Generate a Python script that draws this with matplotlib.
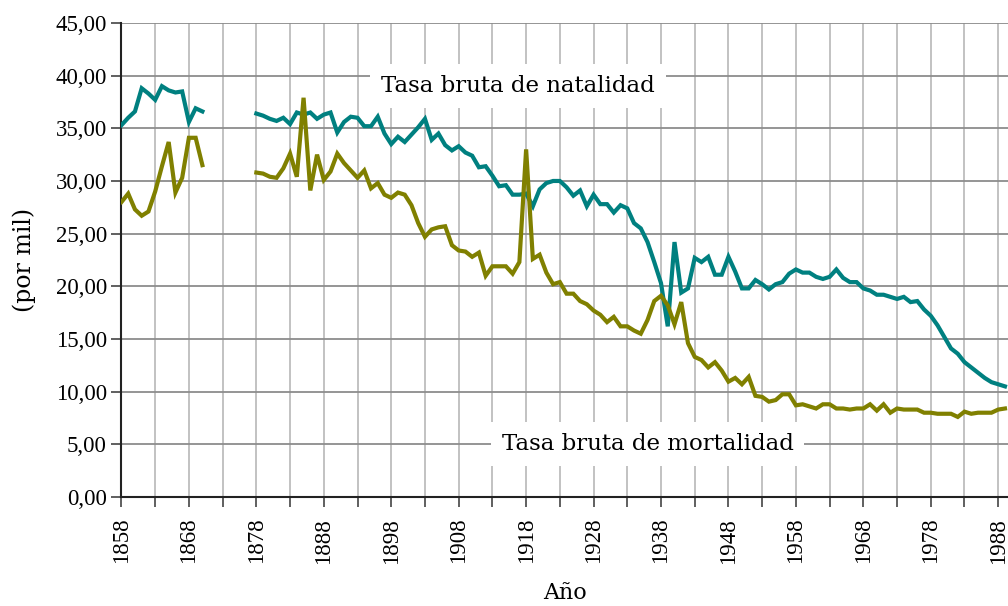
import numpy as np
import matplotlib
matplotlib.use("Agg")
import matplotlib.pyplot as plt
from matplotlib.ticker import FuncFormatter, MultipleLocator

years = list(range(1858, 1990))
nan = np.nan

natalidad = [
    35.3, 36.0, 36.6, 38.8, 38.3, 37.7, 39.0, 38.6, 38.4, 38.5, 35.6, 36.9, 36.6,  # 1858-1870
    nan, nan, nan, nan, nan, nan, nan,                                               # 1871-1877
    36.4, 36.2, 35.9, 35.7, 36.0, 35.4, 36.5, 36.3, 36.5, 35.9,                      # 1878-1887
    36.3, 36.5, 34.6, 35.6, 36.1, 36.0, 35.2, 35.2, 36.1, 34.5,                      # 1888-1897
    33.5, 34.2, 33.7, 34.4, 35.1, 35.9, 33.9, 34.5, 33.4, 32.9,                      # 1898-1907
    33.3, 32.7, 32.4, 31.3, 31.4, 30.5, 29.5, 29.6, 28.7, 28.7,                      # 1908-1917
    28.8, 27.6, 29.2, 29.8, 30.0, 30.0, 29.4, 28.6, 29.1, 27.6,                      # 1918-1927
    28.7, 27.8, 27.8, 27.0, 27.7, 27.4, 26.0, 25.5, 24.2, 22.3,                      # 1928-1937
    20.3, 16.2, 24.2, 19.4, 19.8, 22.7, 22.3, 22.8, 21.1, 21.1,                      # 1938-1947
    22.8, 21.4, 19.8, 19.8, 20.6, 20.2, 19.7, 20.2, 20.4, 21.2,                      # 1948-1957
    21.6, 21.3, 21.3, 20.9, 20.7, 20.9, 21.6, 20.8, 20.4, 20.4,                      # 1958-1967
    19.8, 19.6, 19.2, 19.2, 19.0, 18.8, 19.0, 18.5, 18.6, 17.8,                      # 1968-1977
    17.2, 16.3, 15.2, 14.1, 13.6, 12.8, 12.3, 11.8, 11.3, 10.9,                      # 1978-1987
    10.7, 10.5,                                                                      # 1988-1989
]

mortalidad = [
    28.0, 28.8, 27.3, 26.7, 27.1, 29.0, 31.4, 33.7, 28.9, 30.3, 34.1, 34.1, 31.5,  # 1858-1870
    nan, nan, nan, nan, nan, nan, nan,                                               # 1871-1877
    30.8, 30.7, 30.4, 30.3, 31.2, 32.6, 30.4, 37.9, 29.1, 32.5,                      # 1878-1887
    30.1, 30.9, 32.6, 31.7, 31.0, 30.3, 31.0, 29.3, 29.8, 28.7,                      # 1888-1897
    28.4, 28.9, 28.7, 27.7, 26.0, 24.7, 25.4, 25.6, 25.7, 23.9,                      # 1898-1907
    23.4, 23.3, 22.8, 23.2, 21.0, 21.9, 21.9, 21.9, 21.2, 22.3,                      # 1908-1917
    33.0, 22.6, 23.0, 21.3, 20.2, 20.4, 19.3, 19.3, 18.6, 18.3,                      # 1918-1927
    17.7, 17.3, 16.6, 17.1, 16.2, 16.2, 15.8, 15.5, 16.8, 18.6,                      # 1928-1937
    19.1, 18.2, 16.4, 18.5, 14.6, 13.3, 13.0, 12.3, 12.8, 12.0,                      # 1938-1947
    10.95, 11.3, 10.7, 11.4, 9.6, 9.5, 9.05, 9.2, 9.75, 9.75,                        # 1948-1957
    8.7, 8.8, 8.6, 8.4, 8.8, 8.8, 8.4, 8.4, 8.3, 8.4,                                # 1958-1967
    8.4, 8.8, 8.2, 8.8, 8.0, 8.4, 8.3, 8.3, 8.3, 8.0,                                # 1968-1977
    8.0, 7.9, 7.9, 7.9, 7.6, 8.1, 7.9, 8.0, 8.0, 8.0,                                # 1978-1987
    8.3, 8.4,                                                                        # 1988-1989
]

assert len(natalidad) == len(years) and len(mortalidad) == len(years)

fig = plt.figure(figsize=(10.08, 6.06), dpi=100)
ax = fig.add_axes([0.1205, 0.1799, 0.8795, 0.7822])

ax.plot(years, natalidad, color="#008080", lw=3.0, solid_joinstyle="miter", zorder=3)
ax.plot(years, mortalidad, color="#808000", lw=3.0, solid_joinstyle="miter", zorder=3)

ax.set_xlim(1858, 1989.45)
ax.set_ylim(0, 45)

ax.yaxis.set_major_locator(MultipleLocator(5))
ax.yaxis.set_major_formatter(FuncFormatter(lambda v, p: f"{v:.2f}".replace(".", ",")))
ax.set_xticks(list(range(1858, 1989, 10)))
ax.set_xticks(list(range(1863, 1989, 10)), minor=True)

ax.set_axisbelow(True)
ax.grid(axis="y", which="major", color="#8c8c8c", lw=1.3)
ax.grid(axis="x", which="both", color="#bdbdbd", lw=1.3)

for s in ["top", "right"]:
    ax.spines[s].set_visible(False)
for s in ["left", "bottom"]:
    ax.spines[s].set_linewidth(1.5)
    ax.spines[s].set_color("#222222")

ax.tick_params(axis="both", which="both", direction="out", length=7, width=1.2, color="#444444")
ax.tick_params(axis="x", which="major", labelrotation=90, pad=8)
for lab in ax.get_xticklabels() + ax.get_yticklabels():
    lab.set_fontfamily("Liberation Serif")
    lab.set_fontsize(16.5)

ax.set_xlabel("Año", family="DejaVu Serif", fontsize=16, labelpad=13)
ax.set_ylabel("(por mil)", family="DejaVu Serif", fontsize=17, labelpad=14)

box = dict(facecolor="white", edgecolor="none", pad=8)
ax.text(1916.8, 39.0, "Tasa bruta de natalidad", family="DejaVu Serif", fontsize=16.5,
        ha="center", va="center", bbox=box, zorder=2)
ax.text(1936.0, 5.0, "Tasa bruta de mortalidad", family="DejaVu Serif", fontsize=16.5,
        ha="center", va="center", bbox=box, zorder=2)

fig.savefig("out.png", dpi=100)
